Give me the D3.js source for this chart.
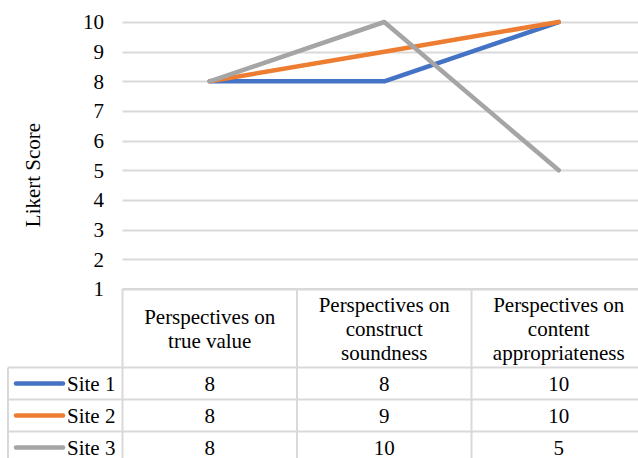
<!DOCTYPE html>
<html>
<head>
<meta charset="utf-8">
<script src="https://cdn.jsdelivr.net/npm/d3@7/dist/d3.min.js"></script>
<style>
  html, body { margin: 0; padding: 0; background: #fff; }
  svg { display: block; }
  svg text { font-family: 'Liberation Serif', 'Times New Roman', serif !important; }
</style>
</head>
<body>
<svg id="chart" width="638" height="458"></svg>
<script>
// Category labels (each entry is the wrapped lines of a header cell)
const categories = [
  ["Perspectives on", "true value"],
  ["Perspectives on", "construct", "soundness"],
  ["Perspectives on", "content", "appropriateness"]
];
const seriesNames = ["Site 1", "Site 2", "Site 3"];
const site1 = [8, 8, 10];
const site2 = [8, 9, 10];
const site3 = [8, 10, 5];
const yTicks = [1, 2, 3, 4, 5, 6, 7, 8, 9, 10];
const colors = ["#4472C4", "#ED7D31", "#A5A5A5"];

const series = [site1, site2, site3].map((v, i) => ({ name: seriesNames[i], values: v, color: colors[i] }));

const svg = d3.select("#chart");
const fontSize = 21;
const fontFamily = "'Liberation Serif', 'Times New Roman', serif";
const grid = "#d9d9d9";

function label(sel) {
  return sel
    .attr("font-family", fontFamily)
    .style("font-family", fontFamily, "important")
    .attr("font-size", fontSize)
    .attr("fill", "#000");
}

// plot area
const left = 122.5, colW = 174.5;
const x = d3.scaleBand().domain(d3.range(categories.length)).range([left, left + colW * categories.length]);
const y = d3.scaleLinear().domain([1, 10]).range([289, 22]);

// gridlines
svg.append("g").selectAll("line").data(yTicks).join("line")
  .attr("x1", left).attr("x2", 638)
  .attr("y1", d => Math.round(y(d)) + 0.5).attr("y2", d => Math.round(y(d)) + 0.5)
  .attr("stroke", grid).attr("stroke-width", 2);

// y tick labels
svg.append("g").selectAll("text").data(yTicks).join("text")
  .attr("x", 104).attr("y", d => y(d))
  .attr("dy", "0.35em")
  .attr("text-anchor", "end")
  .call(label)
  .text(d => d);

// y axis title
svg.append("text")
  .attr("transform", `translate(40,175) rotate(-90)`)
  .attr("text-anchor", "middle")
  .call(label)
  .text("Likert Score");

// lines
const line = d3.line()
  .x((d, i) => x(i) + x.bandwidth() / 2)
  .y(d => y(d));

svg.append("g").selectAll("path").data(series).join("path")
  .attr("d", d => line(d.values))
  .attr("fill", "none")
  .attr("stroke", d => d.color)
  .attr("stroke-width", 4.5)
  .attr("stroke-linecap", "round")
  .attr("stroke-linejoin", "round");

// data table
const headTop = 289, headBottom = 367.5, rowH = 32;
const rowTops = seriesNames.map((_, i) => headBottom + i * rowH);
const tableRight = left + colW * categories.length;
const legendLeft = 8;
const tbl = svg.append("g");

// horizontal borders
tbl.append("line").attr("x1", left).attr("x2", tableRight).attr("y1", headTop).attr("y2", headTop)
  .attr("stroke", grid).attr("stroke-width", 2);
tbl.selectAll("line.h").data(rowTops.concat([headBottom + 3 * rowH])).join("line").attr("class", "h")
  .attr("x1", legendLeft).attr("x2", tableRight)
  .attr("y1", d => d).attr("y2", d => d)
  .attr("stroke", grid).attr("stroke-width", 2);
// vertical borders
tbl.selectAll("line.v").data(d3.range(categories.length + 1)).join("line").attr("class", "v")
  .attr("x1", i => left + i * colW).attr("x2", i => left + i * colW)
  .attr("y1", headTop).attr("y2", 470)
  .attr("stroke", grid).attr("stroke-width", 2);
tbl.append("line").attr("x1", legendLeft).attr("x2", legendLeft)
  .attr("y1", headBottom).attr("y2", 470)
  .attr("stroke", grid).attr("stroke-width", 2);

// header text
const headMid = (headTop + headBottom) / 2;
categories.forEach((lines, i) => {
  const cx = x(i) + x.bandwidth() / 2;
  const t = tbl.append("text")
    .attr("x", cx)
    .attr("text-anchor", "middle")
    .call(label);
  const lh = 24;
  const start = headMid - (lines.length - 1) * lh / 2;
  lines.forEach((s, k) => {
    t.append("tspan").attr("x", cx).attr("y", start + k * lh).attr("dy", "0.35em").text(s);
  });
});

// rows: legend key + values
series.forEach((s, r) => {
  const cy = rowTops[r] + rowH / 2;
  tbl.append("line")
    .attr("x1", 16).attr("x2", 63).attr("y1", cy).attr("y2", cy)
    .attr("stroke", s.color).attr("stroke-width", 4.5).attr("stroke-linecap", "round");
  tbl.append("text").attr("x", 67).attr("y", cy).attr("dy", "0.35em")
    .call(label).text(s.name);
  s.values.forEach((v, i) => {
    tbl.append("text")
      .attr("x", x(i) + x.bandwidth() / 2).attr("y", cy).attr("dy", "0.35em")
      .attr("text-anchor", "middle").call(label).text(v);
  });
});
</script>
</body>
</html>
